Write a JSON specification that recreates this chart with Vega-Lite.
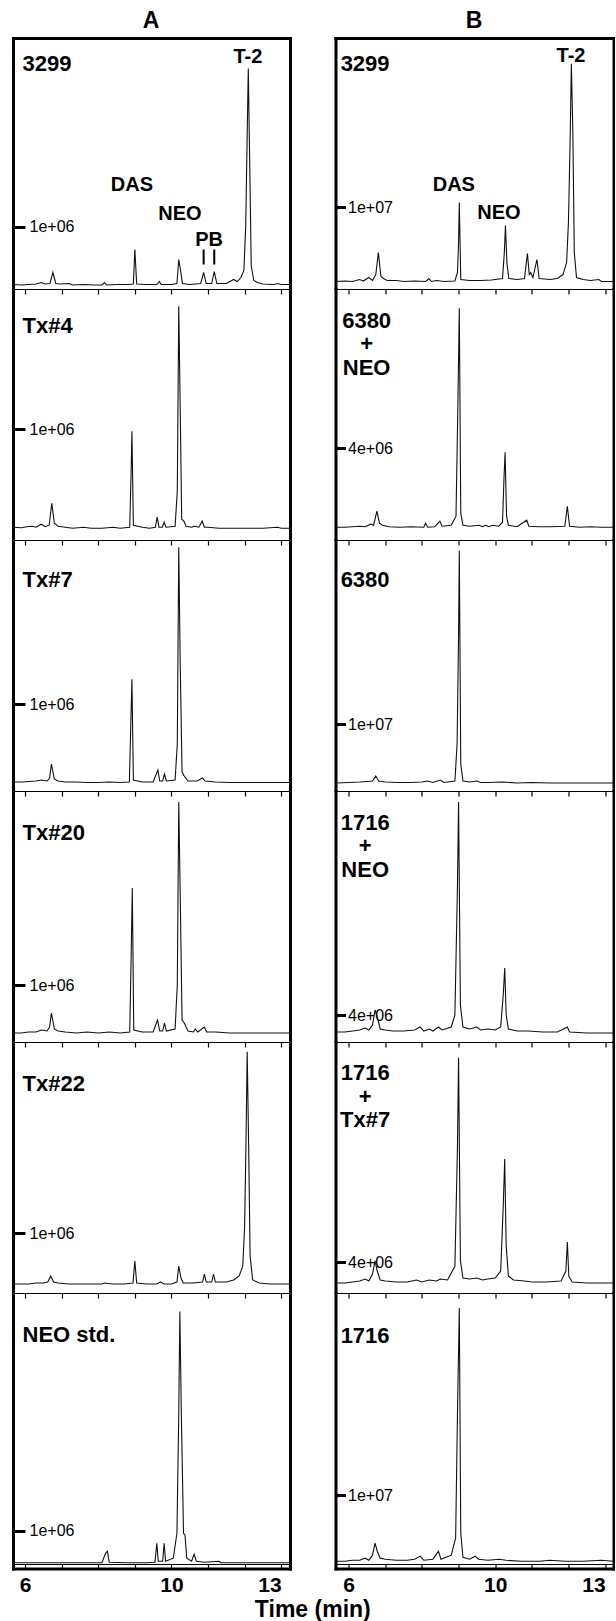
{
"$schema": "https://vega.github.io/schema/vega-lite/v6.json",
"padding": {"left": 11, "top": 10, "right": 0, "bottom": 0},
"config": {"view": {"stroke": null}, "axis": {"domainColor": "black", "tickColor": "black", "labelColor": "black", "grid": false, "domainCap": "square"}, "text": {"color": "black"}},
"title": {"text": "Time (min)", "orient": "bottom", "anchor": "middle", "fontSize": 23, "font": "Liberation Sans", "fontWeight": "bold", "offset": 3},
"datasets": {
"A1": [{"t":5.67,"v":1.7e4},{"t":5.9,"v":8.5e3},{"t":6.1,"v":1.7e4},{"t":6.3,"v":2.6e4},{"t":6.44,"v":5.1e4},{"t":6.55,"v":2.6e4},{"t":6.68,"v":3.4e4},{"t":6.76,"v":2.21e5},{"t":6.84,"v":3.4e4},{"t":6.95,"v":2.6e4},{"t":7.2,"v":3.4e4},{"t":7.3,"v":8.5e3},{"t":7.6,"v":1.7e4},{"t":7.9,"v":8.5e3},{"t":8.1,"v":8.5e3},{"t":8.17,"v":5.1e4},{"t":8.23,"v":8.5e3},{"t":8.5,"v":1.7e4},{"t":8.8,"v":1.7e4},{"t":8.96,"v":2.6e4},{"t":9.0,"v":6.12e5},{"t":9.05,"v":2.6e4},{"t":9.3,"v":1.7e4},{"t":9.6,"v":1.7e4},{"t":9.67,"v":6.8e4},{"t":9.72,"v":1.7e4},{"t":10.0,"v":1.7e4},{"t":10.15,"v":3.4e4},{"t":10.2,"v":4.42e5},{"t":10.25,"v":2.55e5},{"t":10.3,"v":3.4e4},{"t":10.5,"v":1.7e4},{"t":10.8,"v":3.4e4},{"t":10.88,"v":2.21e5},{"t":10.95,"v":3.4e4},{"t":11.1,"v":3.4e4},{"t":11.17,"v":2.38e5},{"t":11.24,"v":3.4e4},{"t":11.5,"v":3.4e4},{"t":11.7,"v":1.02e5},{"t":11.8,"v":6.8e4},{"t":11.9,"v":1.36e5},{"t":11.98,"v":2.55e5},{"t":12.03,"v":1.02e6},{"t":12.07,"v":2.55e6},{"t":12.1,"v":3.69e6},{"t":12.14,"v":2.04e6},{"t":12.18,"v":3.4e5},{"t":12.25,"v":8.5e4},{"t":12.35,"v":5.1e4},{"t":12.5,"v":2.6e4},{"t":12.8,"v":1.7e4},{"t":12.9,"v":3.4e4},{"t":13.0,"v":1.7e4},{"t":13.24,"v":1.7e4}],
"B1": [{"t":5.64,"v":1.33e5},{"t":5.9,"v":2e5},{"t":6.1,"v":1.33e5},{"t":6.3,"v":4e5},{"t":6.4,"v":2e5},{"t":6.55,"v":6.65e5},{"t":6.65,"v":2.66e5},{"t":6.74,"v":1.06e6},{"t":6.81,"v":4e6},{"t":6.88,"v":8e5},{"t":6.95,"v":5.3e5},{"t":7.05,"v":2.66e5},{"t":7.3,"v":2.66e5},{"t":7.5,"v":1.33e5},{"t":7.8,"v":2e5},{"t":8.1,"v":1.33e5},{"t":8.19,"v":5.3e5},{"t":8.26,"v":1.33e5},{"t":8.4,"v":2.66e5},{"t":8.6,"v":1.33e5},{"t":8.9,"v":2e5},{"t":8.97,"v":1.33e6},{"t":9.0,"v":5.32e6},{"t":9.02,"v":1.064e7},{"t":9.06,"v":4e5},{"t":9.3,"v":2.66e5},{"t":9.6,"v":2.66e5},{"t":9.9,"v":3.3e5},{"t":10.2,"v":5.3e5},{"t":10.25,"v":4e6},{"t":10.28,"v":7.58e6},{"t":10.32,"v":2.66e6},{"t":10.37,"v":5.3e5},{"t":10.6,"v":4e5},{"t":10.8,"v":5.3e5},{"t":10.88,"v":3.86e6},{"t":10.93,"v":1.06e6},{"t":10.97,"v":1.33e6},{"t":11.03,"v":6.65e5},{"t":11.14,"v":3.06e6},{"t":11.2,"v":5.3e5},{"t":11.5,"v":4e5},{"t":11.7,"v":5.3e5},{"t":11.85,"v":1.06e6},{"t":11.95,"v":2.66e6},{"t":12.0,"v":7.98e6},{"t":12.05,"v":2e7},{"t":12.08,"v":2.91e7},{"t":12.12,"v":2e7},{"t":12.16,"v":4e6},{"t":12.22,"v":6.65e5},{"t":12.4,"v":4e5},{"t":12.6,"v":2.66e5},{"t":12.83,"v":4e5},{"t":12.9,"v":1.33e5},{"t":13.23,"v":1.33e5}],
"A2": [{"t":5.67,"v":2e4},{"t":5.9,"v":1.5e4},{"t":6.05,"v":2.5e4},{"t":6.2,"v":3e4},{"t":6.3,"v":2e4},{"t":6.44,"v":5e4},{"t":6.55,"v":2.5e4},{"t":6.66,"v":4e4},{"t":6.73,"v":2.6e5},{"t":6.8,"v":6e4},{"t":6.9,"v":3e4},{"t":7.1,"v":2e4},{"t":7.3,"v":1e4},{"t":7.6,"v":2e4},{"t":7.8,"v":1e4},{"t":8.1,"v":1e4},{"t":8.4,"v":2e4},{"t":8.6,"v":1e4},{"t":8.86,"v":2e4},{"t":8.9,"v":6e5},{"t":8.92,"v":9.8e5},{"t":8.96,"v":4e4},{"t":9.2,"v":2e4},{"t":9.4,"v":1e4},{"t":9.56,"v":2e4},{"t":9.61,"v":1.2e5},{"t":9.66,"v":2e4},{"t":9.75,"v":2e4},{"t":9.8,"v":7e4},{"t":9.85,"v":2e4},{"t":10.1,"v":3e4},{"t":10.16,"v":3.8e5},{"t":10.2,"v":2.23e6},{"t":10.24,"v":1.2e6},{"t":10.28,"v":1e5},{"t":10.34,"v":8e4},{"t":10.4,"v":3e4},{"t":10.55,"v":2e4},{"t":10.63,"v":3e4},{"t":10.75,"v":2e4},{"t":10.84,"v":8e4},{"t":10.9,"v":2e4},{"t":11.0,"v":2e4},{"t":11.3,"v":1e4},{"t":11.6,"v":1e4},{"t":12.0,"v":1e4},{"t":12.5,"v":1e4},{"t":12.9,"v":2e4},{"t":13.0,"v":1e4},{"t":13.24,"v":1e4}],
"B2": [{"t":5.64,"v":5e4},{"t":5.9,"v":5e4},{"t":6.1,"v":7.5e4},{"t":6.3,"v":1e5},{"t":6.45,"v":7.5e4},{"t":6.6,"v":2e5},{"t":6.68,"v":1.5e5},{"t":6.77,"v":8.5e5},{"t":6.84,"v":2.5e5},{"t":6.92,"v":1.5e5},{"t":7.1,"v":7.5e4},{"t":7.4,"v":5e4},{"t":7.7,"v":7.5e4},{"t":8.05,"v":5e4},{"t":8.1,"v":2.5e5},{"t":8.16,"v":5e4},{"t":8.35,"v":7.5e4},{"t":8.49,"v":3.5e5},{"t":8.55,"v":1e5},{"t":8.8,"v":1.5e5},{"t":8.93,"v":6e5},{"t":8.98,"v":6e6},{"t":9.02,"v":1.1e7},{"t":9.06,"v":7.5e5},{"t":9.12,"v":1.5e5},{"t":9.3,"v":1e5},{"t":9.56,"v":1.5e5},{"t":9.65,"v":7.5e4},{"t":9.74,"v":1.5e5},{"t":9.82,"v":7.5e4},{"t":9.93,"v":1.5e5},{"t":10.1,"v":1e5},{"t":10.2,"v":3e5},{"t":10.24,"v":2.5e6},{"t":10.27,"v":3.8e6},{"t":10.31,"v":6e5},{"t":10.36,"v":1.5e5},{"t":10.6,"v":7.5e4},{"t":10.86,"v":4e5},{"t":10.92,"v":1e5},{"t":11.2,"v":7.5e4},{"t":11.5,"v":7.5e4},{"t":11.9,"v":1e5},{"t":11.97,"v":1.1e6},{"t":12.03,"v":1e5},{"t":12.3,"v":5e4},{"t":12.6,"v":7.5e4},{"t":12.9,"v":5e4},{"t":13.23,"v":5e4}],
"A3": [{"t":5.67,"v":2.5e4},{"t":5.9,"v":2.5e4},{"t":6.1,"v":3.1e4},{"t":6.3,"v":3.75e4},{"t":6.45,"v":5e4},{"t":6.6,"v":3.75e4},{"t":6.67,"v":7.5e4},{"t":6.72,"v":2.5e5},{"t":6.8,"v":6.25e4},{"t":6.9,"v":3.75e4},{"t":7.1,"v":2.5e4},{"t":7.4,"v":2.5e4},{"t":7.7,"v":1.9e4},{"t":8.0,"v":1.9e4},{"t":8.3,"v":2.5e4},{"t":8.6,"v":1.9e4},{"t":8.85,"v":2.5e4},{"t":8.89,"v":7.5e5},{"t":8.92,"v":1.31e6},{"t":8.96,"v":5e4},{"t":9.2,"v":2.5e4},{"t":9.5,"v":2.5e4},{"t":9.63,"v":1.75e5},{"t":9.68,"v":3.75e4},{"t":9.76,"v":3.75e4},{"t":9.81,"v":1.25e5},{"t":9.86,"v":3.75e4},{"t":10.1,"v":5e4},{"t":10.16,"v":5e5},{"t":10.2,"v":2.96e6},{"t":10.24,"v":1.5e6},{"t":10.29,"v":1.5e5},{"t":10.35,"v":1e5},{"t":10.45,"v":3.75e4},{"t":10.7,"v":3.75e4},{"t":10.85,"v":7.5e4},{"t":10.92,"v":3.75e4},{"t":11.2,"v":2.5e4},{"t":11.6,"v":1.9e4},{"t":12.1,"v":1.9e4},{"t":12.6,"v":1.9e4},{"t":13.0,"v":1.9e4},{"t":13.24,"v":1.9e4}],
"B3": [{"t":5.64,"v":1.67e5},{"t":6.0,"v":2.5e5},{"t":6.3,"v":3.3e5},{"t":6.5,"v":4.2e5},{"t":6.65,"v":5e5},{"t":6.74,"v":1.34e6},{"t":6.82,"v":5e5},{"t":7.0,"v":3.3e5},{"t":7.3,"v":2.5e5},{"t":7.7,"v":2.5e5},{"t":8.0,"v":3.3e5},{"t":8.15,"v":5e5},{"t":8.3,"v":2.5e5},{"t":8.5,"v":6.7e5},{"t":8.6,"v":2.5e5},{"t":8.9,"v":5e5},{"t":8.96,"v":6.7e6},{"t":9.0,"v":2.5e7},{"t":9.02,"v":3.9e7},{"t":9.06,"v":3.3e6},{"t":9.12,"v":5e5},{"t":9.3,"v":3.3e5},{"t":9.5,"v":5e5},{"t":9.6,"v":2.5e5},{"t":9.8,"v":2.5e5},{"t":10.2,"v":3.3e5},{"t":10.6,"v":1.67e5},{"t":11.0,"v":2.5e5},{"t":11.5,"v":1.67e5},{"t":12.0,"v":1.67e5},{"t":12.5,"v":1.67e5},{"t":13.0,"v":1.67e5},{"t":13.23,"v":1.67e5}],
"A4": [{"t":5.67,"v":4e4},{"t":5.9,"v":4e4},{"t":6.1,"v":6e4},{"t":6.3,"v":6e4},{"t":6.45,"v":1e5},{"t":6.6,"v":8e4},{"t":6.67,"v":1.6e5},{"t":6.72,"v":4.4e5},{"t":6.8,"v":1.2e5},{"t":6.9,"v":8e4},{"t":7.1,"v":6e4},{"t":7.4,"v":4e4},{"t":7.7,"v":6e4},{"t":8.0,"v":4e4},{"t":8.3,"v":6e4},{"t":8.6,"v":4e4},{"t":8.86,"v":6e4},{"t":8.9,"v":1.6e6},{"t":8.93,"v":2.94e6},{"t":8.97,"v":1e5},{"t":9.2,"v":6e4},{"t":9.5,"v":6e4},{"t":9.62,"v":3e5},{"t":9.68,"v":8e4},{"t":9.76,"v":8e4},{"t":9.81,"v":2.4e5},{"t":9.86,"v":8e4},{"t":10.1,"v":1.2e5},{"t":10.16,"v":1e6},{"t":10.2,"v":4.66e6},{"t":10.24,"v":2.8e6},{"t":10.29,"v":3e5},{"t":10.35,"v":2.4e5},{"t":10.45,"v":8e4},{"t":10.6,"v":6e4},{"t":10.65,"v":1.2e5},{"t":10.72,"v":6e4},{"t":10.9,"v":1.6e5},{"t":10.96,"v":6e4},{"t":11.2,"v":6e4},{"t":11.6,"v":4e4},{"t":12.1,"v":4e4},{"t":12.6,"v":4e4},{"t":13.0,"v":4e4},{"t":13.24,"v":4e4}],
"B4": [{"t":5.64,"v":6e5},{"t":5.9,"v":6e5},{"t":6.1,"v":8e5},{"t":6.3,"v":1e6},{"t":6.45,"v":1.4e6},{"t":6.55,"v":1e6},{"t":6.65,"v":2e6},{"t":6.72,"v":5e6},{"t":6.78,"v":3.6e6},{"t":6.86,"v":1.2e6},{"t":7.0,"v":1e6},{"t":7.2,"v":8e5},{"t":7.5,"v":8e5},{"t":7.8,"v":1e6},{"t":7.95,"v":1.6e6},{"t":8.05,"v":8e5},{"t":8.2,"v":1.2e6},{"t":8.3,"v":8e5},{"t":8.45,"v":1.6e6},{"t":8.55,"v":1e6},{"t":8.8,"v":1.6e6},{"t":8.9,"v":4e6},{"t":8.97,"v":3e7},{"t":9.0,"v":4.66e7},{"t":9.05,"v":6e6},{"t":9.12,"v":1.6e6},{"t":9.3,"v":1.2e6},{"t":9.5,"v":1.6e6},{"t":9.6,"v":1e6},{"t":9.8,"v":1.2e6},{"t":10.0,"v":1e6},{"t":10.15,"v":1.6e6},{"t":10.22,"v":8e6},{"t":10.26,"v":1.34e7},{"t":10.3,"v":4e6},{"t":10.36,"v":1.2e6},{"t":10.6,"v":8e5},{"t":10.9,"v":8e5},{"t":11.3,"v":6e5},{"t":11.7,"v":6e5},{"t":11.97,"v":1.6e6},{"t":12.03,"v":6e5},{"t":12.5,"v":4e5},{"t":13.0,"v":4e5},{"t":13.23,"v":4e5}],
"A5": [{"t":5.67,"v":3.8e4},{"t":5.9,"v":3.8e4},{"t":6.1,"v":3.8e4},{"t":6.3,"v":5.7e4},{"t":6.5,"v":5.7e4},{"t":6.62,"v":7.6e4},{"t":6.7,"v":1.9e5},{"t":6.78,"v":7.6e4},{"t":6.9,"v":5.7e4},{"t":7.2,"v":3.8e4},{"t":7.5,"v":3.8e4},{"t":7.8,"v":3.8e4},{"t":8.1,"v":3.8e4},{"t":8.17,"v":5.7e4},{"t":8.4,"v":3.8e4},{"t":8.7,"v":3.8e4},{"t":8.95,"v":5.7e4},{"t":9.0,"v":4.75e5},{"t":9.05,"v":5.7e4},{"t":9.3,"v":3.8e4},{"t":9.6,"v":3.8e4},{"t":9.7,"v":7.6e4},{"t":9.8,"v":3.8e4},{"t":10.0,"v":3.8e4},{"t":10.15,"v":7.6e4},{"t":10.2,"v":3.8e5},{"t":10.26,"v":1.52e5},{"t":10.32,"v":5.7e4},{"t":10.6,"v":5.7e4},{"t":10.85,"v":7.6e4},{"t":10.9,"v":2.28e5},{"t":10.95,"v":7.6e4},{"t":11.1,"v":7.6e4},{"t":11.15,"v":2.28e5},{"t":11.2,"v":7.6e4},{"t":11.5,"v":7.6e4},{"t":11.7,"v":1.14e5},{"t":11.85,"v":1.9e5},{"t":11.95,"v":3.8e5},{"t":12.0,"v":1.14e6},{"t":12.04,"v":2.85e6},{"t":12.07,"v":4.45e6},{"t":12.11,"v":2.66e6},{"t":12.15,"v":5.7e5},{"t":12.22,"v":1.14e5},{"t":12.4,"v":5.7e4},{"t":12.7,"v":3.8e4},{"t":13.0,"v":3.8e4},{"t":13.24,"v":3.8e4}],
"B5": [{"t":5.64,"v":5e5},{"t":5.9,"v":5e5},{"t":6.1,"v":6.7e5},{"t":6.3,"v":8.4e5},{"t":6.45,"v":1.17e6},{"t":6.55,"v":8.4e5},{"t":6.65,"v":2e6},{"t":6.72,"v":4.2e6},{"t":6.78,"v":2.5e6},{"t":6.86,"v":1e6},{"t":7.0,"v":8.4e5},{"t":7.3,"v":6.7e5},{"t":7.6,"v":6.7e5},{"t":7.85,"v":1e6},{"t":8.0,"v":6.7e5},{"t":8.2,"v":1e6},{"t":8.4,"v":8.4e5},{"t":8.5,"v":1.17e6},{"t":8.7,"v":1e6},{"t":8.9,"v":3.3e6},{"t":8.97,"v":2.34e7},{"t":9.0,"v":3.81e7},{"t":9.05,"v":4.2e6},{"t":9.12,"v":1.34e6},{"t":9.3,"v":1.17e6},{"t":9.5,"v":1.34e6},{"t":9.65,"v":1e6},{"t":9.8,"v":1.17e6},{"t":10.0,"v":1.34e6},{"t":10.15,"v":2.5e6},{"t":10.22,"v":1.34e7},{"t":10.26,"v":2.12e7},{"t":10.3,"v":6.7e6},{"t":10.36,"v":1.67e6},{"t":10.5,"v":1e6},{"t":10.8,"v":8.4e5},{"t":11.0,"v":6.7e5},{"t":11.4,"v":6.7e5},{"t":11.8,"v":8.4e5},{"t":11.93,"v":2.5e6},{"t":11.97,"v":7.35e6},{"t":12.01,"v":1.67e6},{"t":12.1,"v":6.7e5},{"t":12.5,"v":5e5},{"t":13.0,"v":5e5},{"t":13.23,"v":5e5}],
"A6": [{"t":5.67,"v":1.55e4},{"t":6.2,"v":1.55e4},{"t":6.8,"v":1.55e4},{"t":7.4,"v":1.55e4},{"t":8.1,"v":1.55e4},{"t":8.2,"v":3.1e5},{"t":8.25,"v":3.7e5},{"t":8.3,"v":3.1e4},{"t":8.8,"v":1.55e4},{"t":9.3,"v":1.55e4},{"t":9.55,"v":3.1e4},{"t":9.6,"v":6.2e5},{"t":9.64,"v":6.2e4},{"t":9.76,"v":6.2e4},{"t":9.8,"v":6.2e5},{"t":9.84,"v":6.2e4},{"t":10.05,"v":1.55e5},{"t":10.15,"v":9.3e5},{"t":10.2,"v":4.65e6},{"t":10.23,"v":7.8e6},{"t":10.27,"v":4.65e6},{"t":10.33,"v":9.3e5},{"t":10.37,"v":8.7e5},{"t":10.42,"v":1.55e5},{"t":10.55,"v":6.2e4},{"t":10.62,"v":2.8e5},{"t":10.68,"v":6.2e4},{"t":10.9,"v":3.1e4},{"t":11.3,"v":6.2e4},{"t":11.35,"v":1.55e4},{"t":11.8,"v":1.55e4},{"t":12.4,"v":1.55e4},{"t":13.24,"v":1.55e4}],
"B6": [{"t":5.64,"v":2.9e5},{"t":5.9,"v":2.9e5},{"t":6.1,"v":4.4e5},{"t":6.3,"v":4.4e5},{"t":6.45,"v":7.4e5},{"t":6.55,"v":4.4e5},{"t":6.65,"v":1.18e6},{"t":6.72,"v":2.94e6},{"t":6.78,"v":1.76e6},{"t":6.86,"v":7.4e5},{"t":7.0,"v":5.9e5},{"t":7.3,"v":4.4e5},{"t":7.6,"v":4.4e5},{"t":7.8,"v":5.9e5},{"t":7.95,"v":1.03e6},{"t":8.05,"v":4.4e5},{"t":8.3,"v":5.9e5},{"t":8.45,"v":1.76e6},{"t":8.52,"v":5.9e5},{"t":8.8,"v":1.18e6},{"t":8.92,"v":3.7e6},{"t":8.97,"v":2.2e7},{"t":9.02,"v":3.75e7},{"t":9.06,"v":4.4e6},{"t":9.12,"v":8.8e5},{"t":9.3,"v":5.9e5},{"t":9.45,"v":1.03e6},{"t":9.55,"v":5.9e5},{"t":9.8,"v":4.4e5},{"t":10.1,"v":5.9e5},{"t":10.3,"v":4.4e5},{"t":10.7,"v":2.9e5},{"t":11.2,"v":2.9e5},{"t":11.5,"v":4.4e5},{"t":11.9,"v":2.9e5},{"t":12.4,"v":2.9e5},{"t":12.9,"v":4.4e5},{"t":13.23,"v":2.9e5}]
},
"spacing": 42.5,
"hconcat": [
{"title": {"text": "A", "fontSize": 23, "font": "Liberation Sans", "fontWeight": "bold", "anchor": "middle", "offset": 5},
 "spacing": 0,
 "vconcat": [
  {"width": 277, "height": 250, "resolve": {"axis": {"x": "independent", "y": "independent"}},
   "layer": [
    {"data": {"name": "A1"}, "mark": {"type": "line", "color": "#111", "strokeWidth": 1.1, "clip": true},
     "encoding": {"x": {"field": "t", "type": "quantitative", "scale": {"domain": [5.67, 13.24], "nice": false, "zero": false}, "axis": {"orient": "top", "domainWidth": 3, "ticks": false, "labels": false, "title": null}},
                  "y": {"field": "v", "type": "quantitative", "scale": {"domain": [-42500, 4207500], "nice": false, "zero": false}, "axis": {"orient": "left", "values": [1000000], "labelExpr": "'1e+06'", "domainWidth": 3, "tickSize": -12, "tickWidth": 3, "labelAlign": "left", "labelBaseline": "middle", "labelPadding": -4, "labelFontSize": 16, "labelFont": "Liberation Sans", "title": null}}}},
    {"data": {"values": [{"label": "3299"}]}, "mark": {"type": "text", "align": "left", "baseline": "middle", "fontSize": 22, "fontWeight": "bold", "font": "Liberation Sans"},
     "encoding": {"x": {"datum": 5.93, "type": "quantitative", "axis": null}, "y": {"datum": 3774000, "type": "quantitative", "axis": {"orient": "right", "domainWidth": 3, "ticks": false, "labels": false, "title": null}}, "text": {"field": "label"}}},
    {"data": {"values": [{"label": "T-2", "t": 12.09, "v": 3893000}, {"label": "DAS", "t": 8.92, "v": 1717000}, {"label": "NEO", "t": 10.23, "v": 1224000}, {"label": "PB", "t": 11.03, "v": 782000}]}, "mark": {"type": "text", "align": "center", "baseline": "middle", "fontSize": 20, "fontWeight": "bold", "font": "Liberation Sans"},
     "encoding": {"x": {"field": "t", "type": "quantitative", "axis": null}, "y": {"field": "v", "type": "quantitative", "axis": null}, "text": {"field": "label"}}},
    {"data": {"values": [{"t": 10.88, "v": 612000, "v2": 357000}, {"t": 11.17, "v": 612000, "v2": 357000}]}, "mark": {"type": "rule", "strokeWidth": 2, "color": "black"},
     "encoding": {"x": {"field": "t", "type": "quantitative", "axis": null}, "y": {"field": "v", "type": "quantitative", "axis": null}, "y2": {"field": "v2"}}}
   ]},
  {"width": 277, "height": 250, "resolve": {"axis": {"x": "independent", "y": "independent"}},
   "layer": [
    {"data": {"name": "A2"}, "mark": {"type": "line", "color": "#111", "strokeWidth": 1.1, "clip": true},
     "encoding": {"x": {"field": "t", "type": "quantitative", "scale": {"domain": [5.67, 13.24], "nice": false, "zero": false}, "axis": {"orient": "top", "values": [6,7,8,9,10,11,12,13], "domainWidth": 1.2, "tickSize": -5, "tickWidth": 1.2, "labels": false, "title": null}},
                  "y": {"field": "v", "type": "quantitative", "scale": {"domain": [-98000, 2402000], "nice": false, "zero": false}, "axis": {"orient": "left", "values": [1000000], "labelExpr": "'1e+06'", "domainWidth": 3, "tickSize": -12, "tickWidth": 3, "labelAlign": "left", "labelBaseline": "middle", "labelPadding": -4, "labelFontSize": 16, "labelFont": "Liberation Sans", "title": null}}}},
    {"data": {"values": [{"label": "Tx#4"}]}, "mark": {"type": "text", "align": "left", "baseline": "middle", "fontSize": 22, "fontWeight": "bold", "font": "Liberation Sans"},
     "encoding": {"x": {"datum": 5.93, "type": "quantitative", "axis": null}, "y": {"datum": 2037000, "type": "quantitative", "axis": {"orient": "right", "domainWidth": 3, "ticks": false, "labels": false, "title": null}}, "text": {"field": "label"}}}
   ]},
  {"width": 277, "height": 250, "resolve": {"axis": {"x": "independent", "y": "independent"}},
   "layer": [
    {"data": {"name": "A3"}, "mark": {"type": "line", "color": "#111", "strokeWidth": 1.1, "clip": true},
     "encoding": {"x": {"field": "t", "type": "quantitative", "scale": {"domain": [5.67, 13.24], "nice": false, "zero": false}, "axis": {"orient": "top", "values": [6,7,8,9,10,11,12,13], "domainWidth": 1.2, "tickSize": -5, "tickWidth": 1.2, "labels": false, "title": null}},
                  "y": {"field": "v", "type": "quantitative", "scale": {"domain": [-75000, 3050000], "nice": false, "zero": false}, "axis": {"orient": "left", "values": [1000000], "labelExpr": "'1e+06'", "domainWidth": 3, "tickSize": -12, "tickWidth": 3, "labelAlign": "left", "labelBaseline": "middle", "labelPadding": -4, "labelFontSize": 16, "labelFont": "Liberation Sans", "title": null}}}},
    {"data": {"values": [{"label": "Tx#7"}]}, "mark": {"type": "text", "align": "left", "baseline": "middle", "fontSize": 22, "fontWeight": "bold", "font": "Liberation Sans"},
     "encoding": {"x": {"datum": 5.93, "type": "quantitative", "axis": null}, "y": {"datum": 2544000, "type": "quantitative", "axis": {"orient": "right", "domainWidth": 3, "ticks": false, "labels": false, "title": null}}, "text": {"field": "label"}}}
   ]},
  {"width": 277, "height": 250, "resolve": {"axis": {"x": "independent", "y": "independent"}},
   "layer": [
    {"data": {"name": "A4"}, "mark": {"type": "line", "color": "#111", "strokeWidth": 1.1, "clip": true},
     "encoding": {"x": {"field": "t", "type": "quantitative", "scale": {"domain": [5.67, 13.24], "nice": false, "zero": false}, "axis": {"orient": "top", "values": [6,7,8,9,10,11,12,13], "domainWidth": 1.2, "tickSize": -5, "tickWidth": 1.2, "labels": false, "title": null}},
                  "y": {"field": "v", "type": "quantitative", "scale": {"domain": [-120000, 4880000], "nice": false, "zero": false}, "axis": {"orient": "left", "values": [1000000], "labelExpr": "'1e+06'", "domainWidth": 3, "tickSize": -12, "tickWidth": 3, "labelAlign": "left", "labelBaseline": "middle", "labelPadding": -4, "labelFontSize": 16, "labelFont": "Liberation Sans", "title": null}}}},
    {"data": {"values": [{"label": "Tx#20"}]}, "mark": {"type": "text", "align": "left", "baseline": "middle", "fontSize": 22, "fontWeight": "bold", "font": "Liberation Sans"},
     "encoding": {"x": {"datum": 5.93, "type": "quantitative", "axis": null}, "y": {"datum": 4050000, "type": "quantitative", "axis": {"orient": "right", "domainWidth": 3, "ticks": false, "labels": false, "title": null}}, "text": {"field": "label"}}}
   ]},
  {"width": 277, "height": 250, "resolve": {"axis": {"x": "independent", "y": "independent"}},
   "layer": [
    {"data": {"name": "A5"}, "mark": {"type": "line", "color": "#111", "strokeWidth": 1.1, "clip": true},
     "encoding": {"x": {"field": "t", "type": "quantitative", "scale": {"domain": [5.67, 13.24], "nice": false, "zero": false}, "axis": {"orient": "top", "values": [6,7,8,9,10,11,12,13], "domainWidth": 1.2, "tickSize": -5, "tickWidth": 1.2, "labels": false, "title": null}},
                  "y": {"field": "v", "type": "quantitative", "scale": {"domain": [-114000, 4636000], "nice": false, "zero": false}, "axis": {"orient": "left", "values": [1000000], "labelExpr": "'1e+06'", "domainWidth": 3, "tickSize": -12, "tickWidth": 3, "labelAlign": "left", "labelBaseline": "middle", "labelPadding": -4, "labelFontSize": 16, "labelFont": "Liberation Sans", "title": null}}}},
    {"data": {"values": [{"label": "Tx#22"}]}, "mark": {"type": "text", "align": "left", "baseline": "middle", "fontSize": 22, "fontWeight": "bold", "font": "Liberation Sans"},
     "encoding": {"x": {"datum": 5.93, "type": "quantitative", "axis": null}, "y": {"datum": 3847500, "type": "quantitative", "axis": {"orient": "right", "domainWidth": 3, "ticks": false, "labels": false, "title": null}}, "text": {"field": "label"}}}
   ]},
  {"width": 277, "height": 275.5, "resolve": {"axis": {"x": "independent", "y": "independent"}},
   "layer": [
    {"data": {"name": "A6"}, "mark": {"type": "line", "color": "#111", "strokeWidth": 1.1, "clip": true},
     "encoding": {"x": {"field": "t", "type": "quantitative", "scale": {"domain": [5.67, 13.24], "nice": false, "zero": false}, "axis": {"orient": "top", "values": [6,7,8,9,10,11,12,13], "domainWidth": 1.2, "tickSize": -5, "tickWidth": 1.2, "labels": false, "title": null}},
                  "y": {"field": "v", "type": "quantitative", "scale": {"domain": [-164000, 8376000], "nice": false, "zero": false}, "axis": {"orient": "left", "values": [1000000], "labelExpr": "'1e+06'", "domainWidth": 3, "tickSize": -12, "tickWidth": 3, "labelAlign": "left", "labelBaseline": "middle", "labelPadding": -4, "labelFontSize": 16, "labelFont": "Liberation Sans", "title": null}}}},
    {"data": {"values": [{"label": "NEO std."}]}, "mark": {"type": "text", "align": "left", "baseline": "middle", "fontSize": 22, "fontWeight": "bold", "font": "Liberation Sans"},
     "encoding": {"x": {"datum": 5.93, "type": "quantitative", "axis": {"orient": "bottom", "values": [6,7,8,9,10,11,12,13], "domainWidth": 3, "tickSize": -4, "tickWidth": 1.2, "labelExpr": "datum.value == 6 || datum.value == 10 || datum.value == 13 ? datum.label : ''", "labelOverlap": false, "labelFlush": 10, "labelFlushOffset": 0, "labelFontSize": 21, "labelFontWeight": "bold", "labelFont": "Liberation Sans", "labelPadding": 10, "title": null}},
                  "y": {"datum": 7060000, "type": "quantitative", "axis": {"orient": "right", "domainWidth": 3, "ticks": false, "labels": false, "title": null}}, "text": {"field": "label"}}},
    {"data": {"values": [{"label": "baseline"}]}, "mark": {"type": "rule", "strokeWidth": 1.2, "color": "black"},
     "encoding": {"y": {"datum": -40000, "type": "quantitative", "axis": null}}}
   ]}
 ]},
{"title": {"text": "B", "fontSize": 23, "font": "Liberation Sans", "fontWeight": "bold", "anchor": "middle", "offset": 5},
 "spacing": 0,
 "vconcat": [
  {"width": 278, "height": 250, "resolve": {"axis": {"x": "independent", "y": "independent"}},
   "layer": [
    {"data": {"name": "B1"}, "mark": {"type": "line", "color": "#111", "strokeWidth": 1.1, "clip": true},
     "encoding": {"x": {"field": "t", "type": "quantitative", "scale": {"domain": [5.64, 13.23], "nice": false, "zero": false}, "axis": {"orient": "top", "domainWidth": 3, "ticks": false, "labels": false, "title": null}},
                  "y": {"field": "v", "type": "quantitative", "scale": {"domain": [-730000, 32520000], "nice": false, "zero": false}, "axis": {"orient": "left", "values": [10000000], "labelExpr": "'1e+07'", "domainWidth": 3, "tickSize": -10, "tickWidth": 3, "labelAlign": "left", "labelBaseline": "middle", "labelPadding": -2, "labelFontSize": 16, "labelFont": "Liberation Sans", "title": null}}}},
    {"data": {"values": [{"label": "3299"}]}, "mark": {"type": "text", "align": "left", "baseline": "middle", "fontSize": 22, "fontWeight": "bold", "font": "Liberation Sans"},
     "encoding": {"x": {"datum": 5.78, "type": "quantitative", "axis": null}, "y": {"datum": 29100000, "type": "quantitative", "axis": {"orient": "right", "domainWidth": 3, "ticks": false, "labels": false, "title": null}}, "text": {"field": "label"}}},
    {"data": {"values": [{"label": "T-2", "t": 12.07, "v": 30060000}, {"label": "DAS", "t": 8.87, "v": 13030000}, {"label": "NEO", "t": 10.1, "v": 9180000}]}, "mark": {"type": "text", "align": "center", "baseline": "middle", "fontSize": 20, "fontWeight": "bold", "font": "Liberation Sans"},
     "encoding": {"x": {"field": "t", "type": "quantitative", "axis": null}, "y": {"field": "v", "type": "quantitative", "axis": null}, "text": {"field": "label"}}}
   ]},
  {"width": 278, "height": 250, "resolve": {"axis": {"x": "independent", "y": "independent"}},
   "layer": [
    {"data": {"name": "B2"}, "mark": {"type": "line", "color": "#111", "strokeWidth": 1.1, "clip": true},
     "encoding": {"x": {"field": "t", "type": "quantitative", "scale": {"domain": [5.64, 13.23], "nice": false, "zero": false}, "axis": {"orient": "top", "values": [6,7,8,9,10,11,12,13], "domainWidth": 1.2, "tickSize": -5, "tickWidth": 1.2, "labels": false, "title": null}},
                  "y": {"field": "v", "type": "quantitative", "scale": {"domain": [-540000, 11960000], "nice": false, "zero": false}, "axis": {"orient": "left", "values": [4000000], "labelExpr": "'4e+06'", "domainWidth": 3, "tickSize": -10, "tickWidth": 3, "labelAlign": "left", "labelBaseline": "middle", "labelPadding": -2, "labelFontSize": 16, "labelFont": "Liberation Sans", "title": null}}}},
    {"data": {"values": [{"label": "6380\n+\nNEO"}]}, "mark": {"type": "text", "align": "center", "baseline": "top", "lineBreak": "\n", "lineHeight": 23.5, "fontSize": 22, "fontWeight": "bold", "font": "Liberation Sans"},
     "encoding": {"x": {"datum": 6.49, "type": "quantitative", "axis": null}, "y": {"datum": 10885000, "type": "quantitative", "axis": {"orient": "right", "domainWidth": 3, "ticks": false, "labels": false, "title": null}}, "text": {"field": "label"}}}
   ]},
  {"width": 278, "height": 250, "resolve": {"axis": {"x": "independent", "y": "independent"}},
   "layer": [
    {"data": {"name": "B3"}, "mark": {"type": "line", "color": "#111", "strokeWidth": 1.1, "clip": true},
     "encoding": {"x": {"field": "t", "type": "quantitative", "scale": {"domain": [5.64, 13.23], "nice": false, "zero": false}, "axis": {"orient": "top", "values": [6,7,8,9,10,11,12,13], "domainWidth": 1.2, "tickSize": -5, "tickWidth": 1.2, "labels": false, "title": null}},
                  "y": {"field": "v", "type": "quantitative", "scale": {"domain": [-1000000, 40750000], "nice": false, "zero": false}, "axis": {"orient": "left", "values": [10000000], "labelExpr": "'1e+07'", "domainWidth": 3, "tickSize": -10, "tickWidth": 3, "labelAlign": "left", "labelBaseline": "middle", "labelPadding": -2, "labelFontSize": 16, "labelFont": "Liberation Sans", "title": null}}}},
    {"data": {"values": [{"label": "6380"}]}, "mark": {"type": "text", "align": "left", "baseline": "middle", "fontSize": 22, "fontWeight": "bold", "font": "Liberation Sans"},
     "encoding": {"x": {"datum": 5.78, "type": "quantitative", "axis": null}, "y": {"datum": 34070000, "type": "quantitative", "axis": {"orient": "right", "domainWidth": 3, "ticks": false, "labels": false, "title": null}}, "text": {"field": "label"}}}
   ]},
  {"width": 278, "height": 250, "resolve": {"axis": {"x": "independent", "y": "independent"}},
   "layer": [
    {"data": {"name": "B4"}, "mark": {"type": "line", "color": "#111", "strokeWidth": 1.1, "clip": true},
     "encoding": {"x": {"field": "t", "type": "quantitative", "scale": {"domain": [5.64, 13.23], "nice": false, "zero": false}, "axis": {"orient": "top", "values": [6,7,8,9,10,11,12,13], "domainWidth": 1.2, "tickSize": -5, "tickWidth": 1.2, "labels": false, "title": null}},
                  "y": {"field": "v", "type": "quantitative", "scale": {"domain": [-1200000, 48800000], "nice": false, "zero": false}, "axis": {"orient": "left", "values": [4000000], "labelExpr": "'4e+06'", "domainWidth": 3, "tickSize": -10, "tickWidth": 3, "labelAlign": "left", "labelBaseline": "middle", "labelPadding": -2, "labelFontSize": 16, "labelFont": "Liberation Sans", "title": null}}}},
    {"data": {"values": [{"label": "1716\n+\nNEO"}]}, "mark": {"type": "text", "align": "center", "baseline": "top", "lineBreak": "\n", "lineHeight": 23.5, "fontSize": 22, "fontWeight": "bold", "font": "Liberation Sans"},
     "encoding": {"x": {"datum": 6.45, "type": "quantitative", "axis": null}, "y": {"datum": 44500000, "type": "quantitative", "axis": {"orient": "right", "domainWidth": 3, "ticks": false, "labels": false, "title": null}}, "text": {"field": "label"}}}
   ]},
  {"width": 278, "height": 250, "resolve": {"axis": {"x": "independent", "y": "independent"}},
   "layer": [
    {"data": {"name": "B5"}, "mark": {"type": "line", "color": "#111", "strokeWidth": 1.1, "clip": true},
     "encoding": {"x": {"field": "t", "type": "quantitative", "scale": {"domain": [5.64, 13.23], "nice": false, "zero": false}, "axis": {"orient": "top", "values": [6,7,8,9,10,11,12,13], "domainWidth": 1.2, "tickSize": -5, "tickWidth": 1.2, "labels": false, "title": null}},
                  "y": {"field": "v", "type": "quantitative", "scale": {"domain": [-1000000, 40750000], "nice": false, "zero": false}, "axis": {"orient": "left", "values": [4000000], "labelExpr": "'4e+06'", "domainWidth": 3, "tickSize": -10, "tickWidth": 3, "labelAlign": "left", "labelBaseline": "middle", "labelPadding": -2, "labelFontSize": 16, "labelFont": "Liberation Sans", "title": null}}}},
    {"data": {"values": [{"label": "1716\n+\nTx#7"}]}, "mark": {"type": "text", "align": "center", "baseline": "top", "lineBreak": "\n", "lineHeight": 23.5, "fontSize": 22, "fontWeight": "bold", "font": "Liberation Sans"},
     "encoding": {"x": {"datum": 6.45, "type": "quantitative", "axis": null}, "y": {"datum": 37160000, "type": "quantitative", "axis": {"orient": "right", "domainWidth": 3, "ticks": false, "labels": false, "title": null}}, "text": {"field": "label"}}}
   ]},
  {"width": 278, "height": 275.5, "resolve": {"axis": {"x": "independent", "y": "independent"}},
   "layer": [
    {"data": {"name": "B6"}, "mark": {"type": "line", "color": "#111", "strokeWidth": 1.1, "clip": true},
     "encoding": {"x": {"field": "t", "type": "quantitative", "scale": {"domain": [5.64, 13.23], "nice": false, "zero": false}, "axis": {"orient": "top", "values": [6,7,8,9,10,11,12,13], "domainWidth": 1.2, "tickSize": -5, "tickWidth": 1.2, "labels": false, "title": null}},
                  "y": {"field": "v", "type": "quantitative", "scale": {"domain": [-780000, 39720000], "nice": false, "zero": false}, "axis": {"orient": "left", "values": [10000000], "labelExpr": "'1e+07'", "domainWidth": 3, "tickSize": -10, "tickWidth": 3, "labelAlign": "left", "labelBaseline": "middle", "labelPadding": -2, "labelFontSize": 16, "labelFont": "Liberation Sans", "title": null}}}},
    {"data": {"values": [{"label": "1716"}]}, "mark": {"type": "text", "align": "left", "baseline": "middle", "fontSize": 22, "fontWeight": "bold", "font": "Liberation Sans"},
     "encoding": {"x": {"datum": 5.78, "type": "quantitative", "axis": {"orient": "bottom", "values": [6,7,8,9,10,11,12,13], "domainWidth": 3, "tickSize": -4, "tickWidth": 1.2, "labelExpr": "datum.value == 6 || datum.value == 10 || datum.value == 13 ? datum.label : ''", "labelOverlap": false, "labelFlush": 10, "labelFlushOffset": 0, "labelFontSize": 21, "labelFontWeight": "bold", "labelFont": "Liberation Sans", "labelPadding": 10, "title": null}},
                  "y": {"datum": 33470000, "type": "quantitative", "axis": {"orient": "right", "domainWidth": 3, "ticks": false, "labels": false, "title": null}}, "text": {"field": "label"}}},
    {"data": {"values": [{"label": "baseline"}]}, "mark": {"type": "rule", "strokeWidth": 1.2, "color": "black"},
     "encoding": {"y": {"datum": -190000, "type": "quantitative", "axis": null}}}
   ]}
 ]}
]
}
